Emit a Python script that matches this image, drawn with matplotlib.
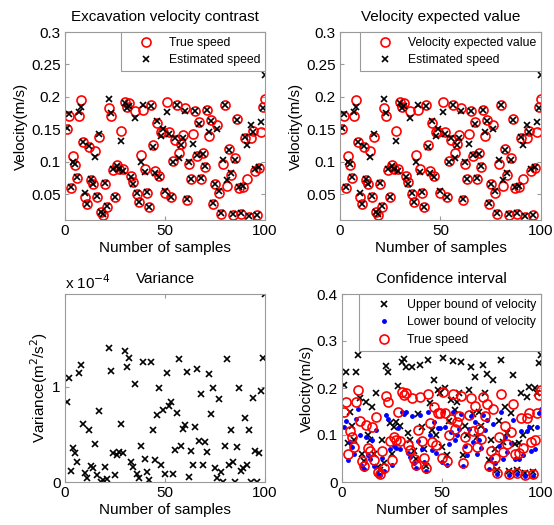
import numpy as np
import matplotlib
matplotlib.use('Agg')
import matplotlib.pyplot as plt
from matplotlib.ticker import FormatStrFormatter

plt.rcParams['font.family'] = ['Liberation Sans', 'DejaVu Sans']

# ---- data ----
samples = np.arange(1, 101)

true_speed = [0.150, 0.170, 0.060, 0.108, 0.095, 0.075, 0.170, 0.195, 0.130, 0.045,
              0.035, 0.122, 0.072, 0.065, 0.117, 0.046, 0.138, 0.022, 0.018, 0.066,
              0.030, 0.182, 0.170, 0.087, 0.046, 0.095, 0.089, 0.148, 0.088, 0.192,
              0.185, 0.190, 0.078, 0.068, 0.178, 0.050, 0.037, 0.110, 0.180, 0.088,
              0.052, 0.030, 0.187, 0.126, 0.085, 0.160, 0.078, 0.146, 0.146, 0.052,
              0.192, 0.146, 0.045, 0.101, 0.133, 0.187, 0.113, 0.128, 0.141, 0.182,
              0.041, 0.096, 0.073, 0.143, 0.178, 0.108, 0.161, 0.074, 0.113, 0.092,
              0.180, 0.140, 0.165, 0.035, 0.065, 0.156, 0.052, 0.020, 0.096, 0.187,
              0.063, 0.120, 0.080, 0.018, 0.106, 0.166, 0.060, 0.020, 0.061, 0.136,
              0.073, 0.015, 0.136, 0.147, 0.085, 0.017, 0.090, 0.146, 0.185, 0.196]

est_speed = [0.152, 0.173, 0.061, 0.100, 0.097, 0.076, 0.177, 0.185, 0.131, 0.052,
             0.035, 0.124, 0.073, 0.066, 0.107, 0.047, 0.143, 0.023, 0.019, 0.067,
             0.031, 0.196, 0.175, 0.088, 0.046, 0.094, 0.088, 0.132, 0.086, 0.190,
             0.183, 0.186, 0.076, 0.066, 0.168, 0.052, 0.037, 0.100, 0.188, 0.084,
             0.053, 0.030, 0.186, 0.122, 0.083, 0.162, 0.076, 0.140, 0.150, 0.054,
             0.176, 0.143, 0.046, 0.100, 0.137, 0.187, 0.105, 0.126, 0.136, 0.178,
             0.042, 0.099, 0.074, 0.128, 0.178, 0.110, 0.158, 0.075, 0.112, 0.094,
             0.180, 0.145, 0.162, 0.036, 0.066, 0.150, 0.054, 0.021, 0.102, 0.187,
             0.072, 0.118, 0.082, 0.019, 0.103, 0.165, 0.061, 0.021, 0.062, 0.138,
             0.126, 0.016, 0.156, 0.145, 0.088, 0.017, 0.092, 0.161, 0.182, 0.233]

# variance in units of 1e-4
variance_e4 = [0.84, 1.085, 0.12, 0.36, 0.30, 0.21, 1.14, 1.23, 0.61, 0.09,
               0.04, 0.55, 0.17, 0.15, 0.40, 0.07, 0.74, 0.00, 0.02, 0.16,
               0.03, 1.40, 1.16, 0.30, 0.07, 0.28, 0.31, 0.61, 0.30, 1.37,
               1.20, 1.30, 0.21, 0.16, 1.03, 0.08, 0.04, 0.38, 1.26, 0.24,
               0.10, 0.02, 1.26, 0.54, 0.23, 0.70, 0.98, 0.18, 0.75, 0.08,
               1.14, 0.80, 0.84, 0.08, 0.34, 0.72, 1.29, 0.38, 0.56, 0.60,
               1.15, 0.05, 0.32, 0.18, 0.58, 1.18, 0.43, 0.92, 0.18, 0.42,
               0.31, 1.13, 0.71, 0.98, 0.15, 0.04, 0.87, 0.10, 0.00, 0.38,
               1.29, 0.18, 0.54, 0.21, 0.00, 0.37, 0.98, 0.12, 0.15, 0.67,
               0.18, 0.54, 0.00, 0.88, 0.32, 0.00, 0.30, 0.95, 1.30, 1.97]
variance = np.array(variance_e4) * 1e-4

upper_bound = [0.206, 0.235, 0.082, 0.150, 0.120, 0.090, 0.235, 0.270, 0.178, 0.060,
               0.045, 0.171, 0.100, 0.090, 0.160, 0.060, 0.190, 0.032, 0.025, 0.090,
               0.040, 0.247, 0.235, 0.125, 0.060, 0.118, 0.128, 0.204, 0.120, 0.255,
               0.262, 0.245, 0.104, 0.090, 0.245, 0.065, 0.050, 0.145, 0.250, 0.118,
               0.070, 0.035, 0.260, 0.169, 0.110, 0.218, 0.100, 0.195, 0.190, 0.075,
               0.263, 0.200, 0.057, 0.130, 0.175, 0.258, 0.153, 0.170, 0.190, 0.256,
               0.057, 0.120, 0.100, 0.196, 0.245, 0.145, 0.224, 0.095, 0.150, 0.120,
               0.250, 0.190, 0.229, 0.047, 0.090, 0.218, 0.070, 0.025, 0.130, 0.260,
               0.085, 0.160, 0.105, 0.024, 0.146, 0.227, 0.080, 0.025, 0.082, 0.189,
               0.100, 0.020, 0.180, 0.202, 0.115, 0.022, 0.200, 0.190, 0.254, 0.270]

lower_bound = [0.118, 0.130, 0.047, 0.085, 0.075, 0.060, 0.135, 0.155, 0.100, 0.035,
               0.028, 0.095, 0.058, 0.050, 0.090, 0.035, 0.110, 0.017, 0.014, 0.052,
               0.024, 0.143, 0.135, 0.070, 0.036, 0.076, 0.072, 0.115, 0.070, 0.150,
               0.145, 0.150, 0.062, 0.054, 0.140, 0.040, 0.030, 0.088, 0.142, 0.070,
               0.042, 0.024, 0.148, 0.100, 0.068, 0.127, 0.062, 0.115, 0.115, 0.042,
               0.152, 0.116, 0.036, 0.080, 0.106, 0.148, 0.090, 0.101, 0.112, 0.144,
               0.033, 0.076, 0.058, 0.113, 0.141, 0.086, 0.128, 0.059, 0.090, 0.073,
               0.142, 0.111, 0.131, 0.028, 0.052, 0.124, 0.041, 0.016, 0.076, 0.148,
               0.050, 0.095, 0.063, 0.014, 0.084, 0.131, 0.048, 0.016, 0.048, 0.108,
               0.058, 0.012, 0.108, 0.116, 0.067, 0.013, 0.071, 0.116, 0.146, 0.155]

W, H = 554, 525
fig = plt.figure(figsize=(W / 100, H / 100), dpi=100)

def make_ax(x0, x1, y0, y1):
    # pixel box -> figure coords
    return fig.add_axes([x0 / W, 1 - y1 / H, (x1 - x0) / W, (y1 - y0) / H])

grey = '#9a9a9a'
fs = 11

def style(ax):
    for s in ax.spines.values():
        s.set_color(grey)
        s.set_linewidth(0.8)
    ax.tick_params(direction='in', length=3, color=grey, labelsize=fs,
                   top=True, right=True, labelcolor='black', pad=3)
    ax.set_xlim(0, 100)
    ax.set_xticks([0, 50, 100])
    ax.set_xlabel('Number of samples', fontsize=fs, labelpad=2)

def legend(ax):
    lg = ax.legend(loc='upper right', borderaxespad=0, fontsize=8.8, fancybox=False,
                   framealpha=1, edgecolor=grey, handlelength=3.3, handletextpad=0.2,
                   borderpad=0.4, labelspacing=0.45)
    lg.get_frame().set_linewidth(0.8)
    return lg

# top left
ax1 = make_ax(65, 265, 32, 220)
ax1.plot(samples, true_speed, 'o', mfc='none', mec='red', ms=6.5, mew=1.2, label='True speed')
ax1.plot(samples, est_speed, 'x', color='black', ms=5, mew=1.2, label='Estimated speed')
ax1.set_ylim(0.01, 0.3)
ax1.set_yticks([0.05, 0.1, 0.15, 0.2, 0.25, 0.3])
ax1.yaxis.set_major_formatter(FormatStrFormatter('%g'))
ax1.set_ylabel('Velocity(m/s)', fontsize=fs, labelpad=2)
ax1.set_title('Excavation velocity contrast', fontsize=fs, pad=8)
style(ax1)
legend(ax1)

# top right
ax2 = make_ax(340, 541, 32, 220)
ax2.plot(samples, true_speed, 'o', mfc='none', mec='red', ms=6.5, mew=1.2, label='Velocity expected value')
ax2.plot(samples, est_speed, 'x', color='black', ms=5, mew=1.2, label='Estimated speed')
ax2.set_ylim(0.01, 0.3)
ax2.set_yticks([0.05, 0.1, 0.15, 0.2, 0.25, 0.3])
ax2.yaxis.set_major_formatter(FormatStrFormatter('%g'))
ax2.set_ylabel('Velocity(m/s)', fontsize=fs, labelpad=2)
ax2.set_title('Velocity expected value', fontsize=fs, pad=8)
style(ax2)
legend(ax2)

# bottom left
ax3 = make_ax(65, 265, 294, 482)
ax3.plot(samples, variance, 'x', color='black', ms=5, mew=1.2)
ax3.set_ylim(0, max(variance))
ax3.set_yticks([0, 1e-4])
ax3.set_yticklabels(['0', '1'])
ax3.set_ylabel('Variance(m$^2$/s$^2$)', fontsize=fs, labelpad=2)
ax3.set_title('Variance', fontsize=fs, pad=8)
ax3.text(0, 1.01, r'x 10$^{-4}$', transform=ax3.transAxes, fontsize=fs, va='bottom', ha='left')
style(ax3)

# bottom right
ax4 = make_ax(342, 541, 294, 482)
ax4.plot(samples, upper_bound, 'x', color='black', ms=5, mew=1.2, label='Upper bound of velocity')
ax4.plot(samples, lower_bound, '.', color='blue', ms=5, label='Lower bound of velocity')
ax4.plot(samples, true_speed, 'o', mfc='none', mec='red', ms=6.5, mew=1.2, label='True speed')
ax4.set_ylim(0, 0.4)
ax4.set_yticks([0, 0.1, 0.2, 0.3, 0.4])
ax4.yaxis.set_major_formatter(FormatStrFormatter('%g'))
ax4.set_ylabel('Velocity(m/s)', fontsize=fs, labelpad=2)
ax4.set_title('Confidence interval', fontsize=fs, pad=8)
style(ax4)
legend(ax4)

fig.savefig('out.png', dpi=100)
